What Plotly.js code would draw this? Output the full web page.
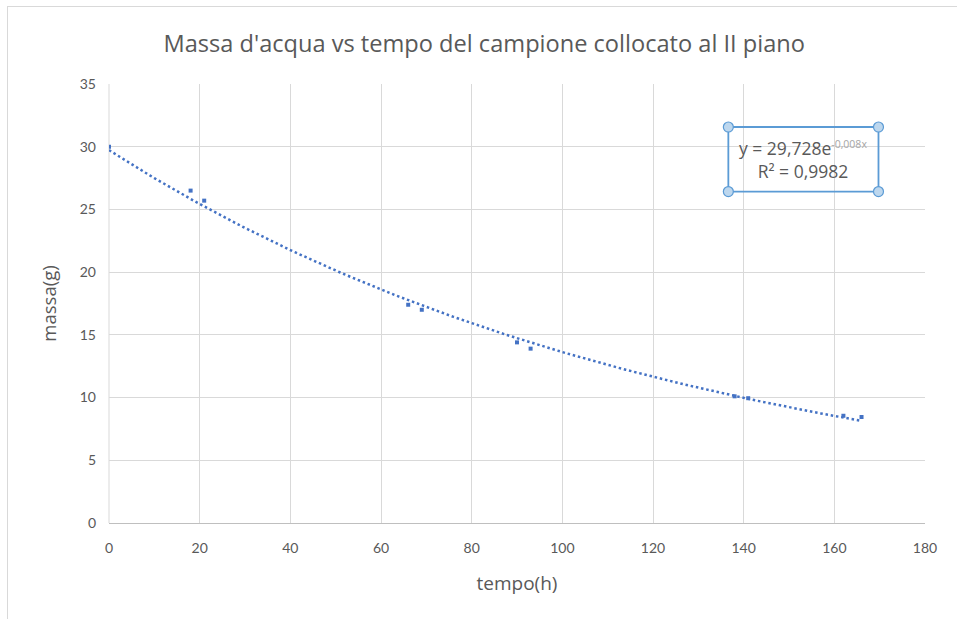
<!DOCTYPE html>
<html>
<head>
<meta charset="utf-8">
<script src="https://cdn.plot.ly/plotly-3.0.1.min.js"></script>
<style>
  html, body { margin: 0; padding: 0; background: #ffffff; overflow: hidden; }
  #wrap { position: relative; width: 957px; height: 619px; }
  #chart { position: absolute; left: 0; top: 0; width: 957px; height: 619px; }
  #frame { position: absolute; left: 7px; top: 6px; width: 960px; height: 620px;
           border-left: 1px solid #d9d9d9; border-top: 1px solid #d9d9d9; pointer-events: none; }
</style>
</head>
<body>
<div id="wrap">
  <div id="chart"></div>
  <div id="frame"></div>
</div>
<script>
// Measured samples: time (hours) and water mass (grams)
const tempo = [0, 18, 21, 66, 69, 90, 93, 138, 141, 162, 166];
const massa = [30.0, 26.5, 25.7, 17.4, 17.0, 14.4, 13.9, 10.1, 9.95, 8.55, 8.45];

// Exponential trendline y = A * e^(-K x) and its goodness of fit
const trendA = 29.728;
const trendK = 0.0078;
const rSquared = 0.9982;

// Axis ticks
const xTicks = [0, 20, 40, 60, 80, 100, 120, 140, 160, 180];
const yTicks = [0, 5, 10, 15, 20, 25, 30, 35];

const blue = '#4472C4';
const grey = '#595959';
const tickFont = 'Lato, "Open Sans", sans-serif';
const textFont = '"Open Sans", Lato, sans-serif';

// Trendline sampled over the measured time range
const tMax = Math.max(...tempo);
const trendX = [];
const trendY = [];
for (let t = 0; t <= tMax; t += 1) {
  trendX.push(t);
  trendY.push(trendA * Math.exp(-trendK * t));
}

const fmt = (v, d) => v.toFixed(d).replace('.', ',');
const eqText = 'y = ' + fmt(trendA, 3) + 'e' +
  '<sup><span style="color:#a6a6a6;font-size:10.5px">-' + fmt(trendK, 3) + 'x</span></sup>' +
  '<br>R² = ' + fmt(rSquared, 4);

const traces = [
  {
    x: trendX, y: trendY, type: 'scatter', mode: 'lines',
    line: { color: blue, width: 2.5, dash: '2.5px,2.8px' },
    hoverinfo: 'skip', showlegend: false
  },
  {
    x: tempo, y: massa, type: 'scatter', mode: 'markers',
    marker: { symbol: 'square', size: 4, color: blue },
    showlegend: false
  }
];

// Label box corners in paper coordinates
const bx0 = 0.759, bx1 = 0.943, by0 = 0.755, by1 = 0.902;
const handle = (x, y) => ({
  type: 'circle', xref: 'paper', yref: 'paper',
  xsizemode: 'pixel', ysizemode: 'pixel', xanchor: x, yanchor: y,
  x0: -5, x1: 5, y0: -5, y1: 5,
  fillcolor: '#bdd7ee', line: { color: '#5b9bd5', width: 1.2 }
});

const layout = {
  width: 957, height: 619,
  margin: { l: 109, r: 32, t: 84, b: 96 },
  paper_bgcolor: '#ffffff', plot_bgcolor: '#ffffff',
  font: { family: tickFont, color: grey, size: 14 },
  title: {
    text: "Massa d'acqua vs tempo del campione collocato al II piano",
    font: { family: textFont, size: 23.6, color: grey },
    x: 0.506, xanchor: 'center', y: 0.93, yanchor: 'middle'
  },
  xaxis: {
    range: [0, 180], tickvals: xTicks, ticktext: xTicks.map(String),
    showgrid: true, gridcolor: '#d9d9d9', gridwidth: 1,
    zeroline: false, showline: true, linecolor: '#bfbfbf', linewidth: 1,
    ticks: '', ticklabelstandoff: 12,
    tickfont: { family: tickFont, size: 14, color: grey },
    title: { text: 'tempo(h)', font: { family: textFont, size: 19, color: grey }, standoff: 21 },
    fixedrange: true
  },
  yaxis: {
    range: [0, 35], tickvals: yTicks, ticktext: yTicks.map(String),
    showgrid: true, gridcolor: '#d9d9d9', gridwidth: 1,
    zeroline: false, showline: false,
    ticks: '', ticklabelstandoff: 12,
    tickfont: { family: tickFont, size: 14, color: grey },
    title: { text: 'massa(g)', font: { family: textFont, size: 18.5, color: grey }, standoff: 18 },
    fixedrange: true
  },
  shapes: [
    { type: 'line', xref: 'paper', yref: 'paper', x0: 0, x1: 0, y0: 0, y1: 1,
      line: { color: '#d9d9d9', width: 1 }, layer: 'below' },
    { type: 'rect', xref: 'paper', yref: 'paper', x0: bx0, x1: bx1, y0: by0, y1: by1,
      fillcolor: 'rgba(255,255,255,0)', line: { color: '#5b9bd5', width: 1.8 } },
    handle(bx0, by0), handle(bx1, by0), handle(bx0, by1), handle(bx1, by1)
  ],
  annotations: [
    {
      xref: 'paper', yref: 'paper', x: (bx0 + bx1) / 2, y: (by0 + by1) / 2,
      xanchor: 'center', yanchor: 'middle', align: 'center',
      text: eqText, showarrow: false,
      font: { family: textFont, size: 17.5, color: grey }
    }
  ],
  showlegend: false
};

Plotly.newPlot('chart', traces, layout, { displayModeBar: false, staticPlot: true });
</script>
</body>
</html>
